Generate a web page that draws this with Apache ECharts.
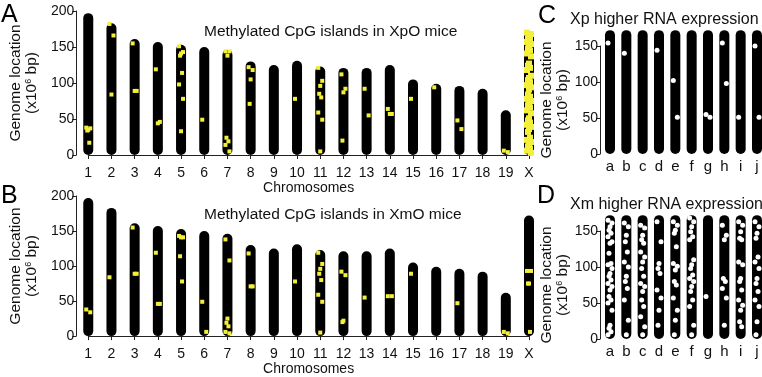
<!DOCTYPE html>
<html>
<head>
<meta charset="utf-8">
<script src="https://cdn.jsdelivr.net/npm/echarts@6/dist/echarts.min.js"></script>
<style>
  html, body { margin: 0; padding: 0; background: #fff; }
  #chart { width: 762px; height: 377px; }
</style>
</head>
<body>
<div id="chart"></div>
<script>
// chromosomes and their lengths (x10^6 bp)
const chrNames = ['1', '2', '3', '4', '5', '6', '7', '8', '9', '10',
  '11', '12', '13', '14', '15', '16', '17', '18', '19', 'X'];
const chrLengths = [197, 183, 161, 157, 153, 150, 146, 130, 125, 131,
  123, 121, 121, 125, 105, 99, 96, 92, 62, 172];

// methylated CpG islands, XpO mice: [chromosome, position]
const xpoMarks = [
  ['1', 38], ['1', 37], ['1', 35], ['1', 34], ['1', 17],
  ['2', 182], ['2', 166], ['2', 84],
  ['3', 155], ['3', 89], ['3', 89],
  ['4', 119], ['4', 46], ['4', 44],
  ['5', 151], ['5', 143], ['5', 141], ['5', 138], ['5', 114], ['5', 98], ['5', 78], ['5', 33],
  ['6', 49],
  ['7', 144], ['7', 144], ['7', 138], ['7', 24], ['7', 19], ['7', 14], ['7', 5],
  ['8', 122], ['8', 118], ['8', 105], ['8', 71],
  ['10', 78],
  ['11', 121], ['11', 103], ['11', 96], ['11', 85], ['11', 80], ['11', 59], ['11', 49], ['11', 5],
  ['12', 112], ['12', 92], ['12', 87], ['12', 20],
  ['13', 92], ['13', 55],
  ['14', 64], ['14', 57], ['14', 57],
  ['15', 78],
  ['16', 94],
  ['17', 48], ['17', 36],
  ['19', 6], ['19', 4]
];
// X chromosome in XpO mice is almost entirely methylated
const xpoX = [170, 168, 165, 162, 160, 157, 154, 151, 148, 145, 141, 137, 127, 124, 121,
  118, 110, 107, 104, 101, 97, 94, 91, 84, 81, 78, 75, 72, 69, 66, 62, 58, 51, 48, 45,
  42, 39, 36, 32, 24, 21, 18, 15, 12, 9, 6, 3];

// methylated CpG islands, XmO mice
const xmoMarks = [
  ['1', 38], ['1', 34],
  ['2', 84],
  ['3', 155], ['3', 89], ['3', 89],
  ['4', 119], ['4', 46], ['4', 46],
  ['5', 143], ['5', 141], ['5', 141], ['5', 114], ['5', 78],
  ['6', 49], ['6', 6],
  ['7', 138], ['7', 108], ['7', 25], ['7', 19], ['7', 14], ['7', 6], ['7', 4],
  ['8', 118], ['8', 71], ['8', 71],
  ['10', 78],
  ['11', 119], ['11', 103], ['11', 96], ['11', 89], ['11', 80], ['11', 59], ['11', 49], ['11', 5],
  ['12', 92], ['12', 87], ['12', 22], ['12', 20],
  ['13', 55],
  ['14', 57], ['14', 57],
  ['15', 89],
  ['17', 47],
  ['19', 6], ['19', 4],
  ['X', 93], ['X', 93], ['X', 75], ['X', 75], ['X', 6]
];

// X chromosome, per sample a-j
const sampleNames = ['a', 'b', 'c', 'd', 'e', 'f', 'g', 'h', 'i', 'j'];
const xLength = 172;

// genes with higher Xp expression
const xpHigh = [
  ['a', 154], ['b', 140], ['d', 144], ['e', 102], ['e', 51], ['g', 55], ['g', 51],
  ['h', 154], ['h', 98], ['i', 51], ['j', 150], ['j', 51]
];

// genes with higher Xm expression
const xmHigh = [
  ['a', 165], ['a', 161], ['a', 156], ['a', 151], ['a', 147], ['a', 142], ['a', 135], ['a', 133],
  ['a', 119], ['a', 105], ['a', 103], ['a', 98], ['a', 91], ['a', 87], ['a', 82], ['a', 77],
  ['a', 73], ['a', 68], ['a', 59], ['a', 54], ['a', 50], ['a', 40], ['a', 19], ['a', 15], ['a', 10], ['a', 6],
  ['b', 161], ['b', 156], ['b', 144], ['b', 135], ['b', 121], ['b', 107], ['b', 100], ['b', 87],
  ['b', 80], ['b', 70], ['b', 54], ['b', 26], ['b', 6],
  ['c', 158], ['c', 154], ['c', 144], ['c', 138], ['c', 133], ['c', 121], ['c', 114], ['c', 107],
  ['c', 98], ['c', 87], ['c', 77], ['c', 73], ['c', 66], ['c', 54], ['c', 45], ['c', 31], ['c', 17], ['c', 6],
  ['d', 163], ['d', 135], ['d', 105], ['d', 98], ['d', 91], ['d', 68], ['d', 57], ['d', 40], ['d', 19],
  ['e', 163], ['e', 158], ['e', 151], ['e', 147], ['e', 128], ['e', 105], ['e', 101], ['e', 96],
  ['e', 80], ['e', 75], ['e', 57], ['e', 40], ['e', 26], ['e', 6],
  ['f', 168], ['f', 163], ['f', 156], ['f', 149], ['f', 142], ['f', 138], ['f', 110], ['f', 103],
  ['f', 98], ['f', 89], ['f', 84], ['f', 80], ['f', 73], ['f', 66], ['f', 54], ['f', 45], ['f', 19], ['f', 6],
  ['g', 59],
  ['h', 158], ['h', 144], ['h', 138], ['h', 84], ['h', 80], ['h', 70], ['h', 57], ['h', 19],
  ['i', 163], ['i', 158], ['i', 149], ['i', 140], ['i', 138], ['i', 107], ['i', 103], ['i', 84],
  ['i', 80], ['i', 68], ['i', 54], ['i', 47], ['i', 40], ['i', 24], ['i', 17],
  ['j', 163], ['j', 156], ['j', 147], ['j', 140], ['j', 114], ['j', 107], ['j', 98], ['j', 84],
  ['j', 77], ['j', 66], ['j', 54], ['j', 45], ['j', 24], ['j', 6]
];

const FONT = 'Liberation Sans, Arial, Helvetica, sans-serif';
const YELLOW = '#f3ef3a';
const jitter = [-2, 2, 0, -1, 1];

// spread marks sitting on the same bar a little sideways
function spread(list) {
  const seen = {};
  return list.map(function (d) {
    const n = seen[d[0]] || 0;
    seen[d[0]] = n + 1;
    return { value: d, symbolOffset: [jitter[n % jitter.length], 0] };
  });
}

const yName = '{t|Genome location}\n{t|(x10}{s|6}{t| bp)}';
const yNameStyle = {
  fontFamily: FONT, fontSize: 15.5, color: '#111', lineHeight: 16,
  rich: {
    t: { fontFamily: FONT, fontSize: 15.5, color: '#111', lineHeight: 16 },
    s: { fontFamily: FONT, fontSize: 9, color: '#111', lineHeight: 16, padding: [0, 0, 6, 0] }
  }
};

function yAxisCfg(grid, max, offset) {
  return {
    type: 'value', gridIndex: grid, min: 0, max: max, interval: 50, offset: offset,
    axisLine: { show: true, lineStyle: { color: '#222', width: 1 } },
    axisTick: { show: true, length: 4, lineStyle: { color: '#222' } },
    axisLabel: { fontFamily: FONT, fontSize: 14, color: '#111', margin: 2 },
    splitLine: { show: false },
    name: yName, nameLocation: 'middle', nameRotate: 90, nameGap: 24,
    nameTextStyle: yNameStyle
  };
}

function chrAxis(grid) {
  return {
    type: 'category', gridIndex: grid, data: chrNames, boundaryGap: false, offset: 8,
    axisLine: { show: true, lineStyle: { color: '#222', width: 1 } },
    axisTick: { show: true, length: 4, lineStyle: { color: '#222' } },
    axisLabel: { fontFamily: FONT, fontSize: 14, color: '#111', margin: 3, interval: 0 },
    name: 'Chromosomes', nameLocation: 'middle', nameGap: 13,
    nameTextStyle: { fontFamily: FONT, fontSize: 14, color: '#111' }
  };
}

function sampleAxis(grid) {
  return {
    type: 'category', gridIndex: grid, data: sampleNames, boundaryGap: false,
    axisLine: { show: false }, axisTick: { show: false },
    axisLabel: { fontFamily: FONT, fontSize: 15, color: '#111', margin: 5, interval: 0 }
  };
}

function barSeries(axis, data) {
  return {
    type: 'bar', xAxisIndex: axis, yAxisIndex: axis, data: data, barWidth: 10, clip: false,
    silent: true, itemStyle: { color: '#000', borderRadius: 5 }
  };
}

function dotSeries(axis, data, color, symbol, size) {
  return {
    type: 'scatter', xAxisIndex: axis, yAxisIndex: axis, data: data, clip: false, silent: true,
    symbol: symbol, symbolSize: size, itemStyle: { color: color, opacity: 1 }, z: 5
  };
}

const chart = echarts.init(document.getElementById('chart'), null, { renderer: 'canvas' });

const letter = function (text, left, top) {
  return { text: text, left: left, top: top, padding: 0,
    textStyle: { fontFamily: FONT, fontSize: 25, fontWeight: 'normal', color: '#000' } };
};
const panelTitle = function (text, left, top, size) {
  return { text: text, left: left, top: top, padding: 0,
    textStyle: { fontFamily: FONT, fontSize: size, fontWeight: 'normal', color: '#111' } };
};

chart.setOption({
  animation: false,
  backgroundColor: '#fff',
  title: [
    letter('A', 1, 3), letter('B', 1, 184), letter('C', 538, 4), letter('D', 537, 184),
    panelTitle('Methylated CpG islands in XpO mice', 204, 24, 15.5),
    panelTitle('Methylated CpG islands in XmO mice', 204, 207, 15.5),
    panelTitle('Xp higher RNA expression', 570, 12, 16),
    panelTitle('Xm higher RNA expression', 570, 197, 16)
  ],
  grid: [
    { left: 70, right: 233, top: 11, height: 144 },
    { left: 70, right: 233, top: 196, height: 144 },
    { left: 610, right: 5, top: 46, height: 108 },
    { left: 610, right: 5, top: 231, height: 108 }
  ],
  xAxis: [chrAxis(0), chrAxis(1), sampleAxis(2), sampleAxis(3)],
  yAxis: [yAxisCfg(0, 200, 12), yAxisCfg(1, 200, 12), yAxisCfg(2, 150, 10), yAxisCfg(3, 150, 10)],
  series: [
    barSeries(0, chrLengths),
    dotSeries(0, spread(xpoMarks), YELLOW, 'rect', 4),
    dotSeries(0, spread(xpoX.map(function (v) { return ['X', v]; })), YELLOW, 'rect', 6),
    barSeries(1, chrLengths),
    dotSeries(1, spread(xmoMarks), YELLOW, 'rect', 4),
    barSeries(2, sampleNames.map(function () { return xLength; })),
    dotSeries(2, spread(xpHigh), '#fff', 'circle', 5),
    barSeries(3, sampleNames.map(function () { return xLength; })),
    dotSeries(3, spread(xmHigh), '#fff', 'circle', 5)
  ]
});
</script>
</body>
</html>
